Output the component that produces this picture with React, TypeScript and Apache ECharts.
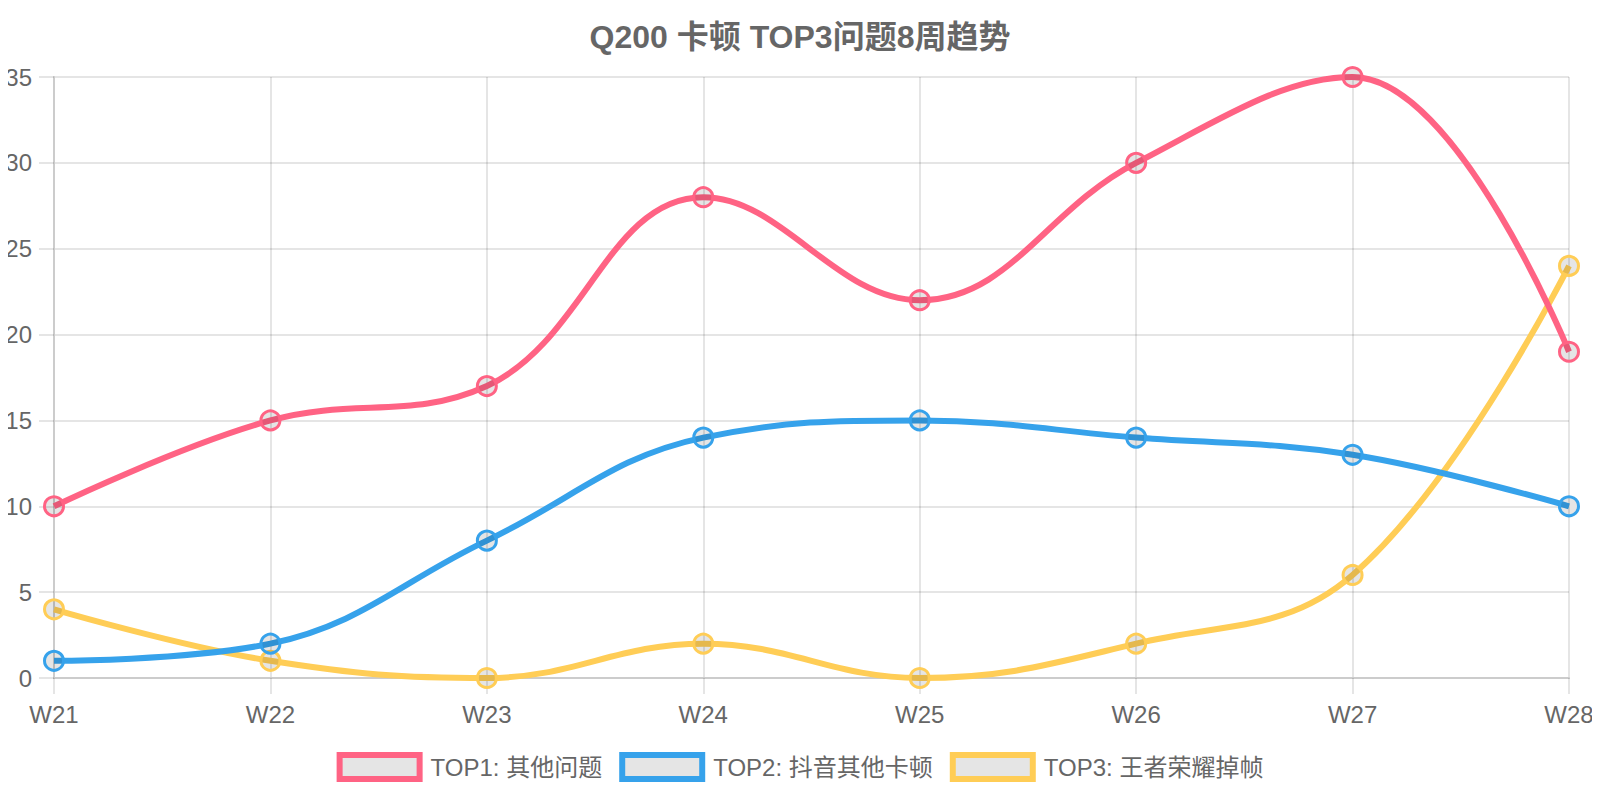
import React, { useEffect, useRef } from "react";
import * as echarts from "echarts";

const categories = ["W21", "W22", "W23", "W24", "W25", "W26", "W27", "W28"];
const seriesNames = ["TOP1: 其他问题", "TOP2: 抖音其他卡顿", "TOP3: 王者荣耀掉帧"];
const top1 = [10, 15, 17, 28, 22, 30, 35, 19];
const top2 = [1, 2, 8, 14, 15, 14, 13, 10];
const top3 = [4, 1, 0, 2, 0, 2, 6, 24];
const colors = ["#ff6384", "#36a2eb", "#ffcd56"];
const titleText = "Q200 卡顿 TOP3问题8周趋势";

const FONT = '"Liberation Sans", Arial, "Noto Sans CJK SC", sans-serif';

export default function App() {
  const ref = useRef<HTMLDivElement>(null);
  useEffect(() => {
    if (!ref.current) return;
    const chart = echarts.init(ref.current, undefined, { renderer: "svg" });
    const datas = [top1, top2, top3];
    const zs = [4, 3, 2];
    chart.setOption({
      animation: false,
      backgroundColor: "#ffffff",
      title: {
        text: titleText,
        left: "center",
        top: 16,
        textStyle: { fontFamily: FONT, fontSize: 32, fontWeight: "bold", color: "#666666" },
      },
      legend: {
        bottom: 13,
        left: "center",
        itemWidth: 80,
        itemHeight: 24,
        itemGap: 17,
        icon: "rect",
        textStyle: { fontFamily: FONT, fontSize: 24, color: "#666666", padding: [0, 0, 0, 6] },
        data: seriesNames.map((n, i) => ({
          name: n,
          icon: "rect",
          itemStyle: { color: "rgba(0,0,0,0.1)", borderColor: colors[i], borderWidth: 6 },
        })),
      },
      grid: { left: 54, right: 31, top: 77, bottom: 122 },
      xAxis: {
        type: "category",
        data: categories,
        boundaryGap: false,
        axisLine: { show: true, lineStyle: { color: "#cccccc", width: 2 } },
        axisTick: { show: true, length: 16, lineStyle: { color: "rgba(0,0,0,0.1)", width: 2 } },
        axisLabel: { fontFamily: FONT, fontSize: 24, color: "#666666", margin: 24 },
        splitLine: { show: true, lineStyle: { color: "rgba(0,0,0,0.1)", width: 2 } },
      },
      yAxis: {
        type: "value",
        min: 0,
        max: 35,
        interval: 5,
        axisLine: { show: true, lineStyle: { color: "#cccccc", width: 2 } },
        axisTick: { show: true, length: 15, lineStyle: { color: "rgba(0,0,0,0.1)", width: 2 } },
        axisLabel: { fontFamily: FONT, fontSize: 24, color: "#666666", margin: 22 },
        splitLine: { show: true, lineStyle: { color: "rgba(0,0,0,0.1)", width: 2 } },
      },
      series: seriesNames.map((n, i) => ({
        name: n,
        type: "line",
        data: datas[i],
        smooth: 0.4,
        z: zs[i],
        symbol: "circle",
        symbolSize: 19,
        showAllSymbol: true,
        lineStyle: { color: colors[i], width: 6 },
        itemStyle: { color: "rgba(0,0,0,0.1)", borderColor: colors[i], borderWidth: 3 },
        emphasis: { disabled: true },
      })),
    });
    return () => chart.dispose();
  }, []);
  return <div ref={ref} style={{ width: 1600, height: 800, margin: -8 }} />;
}
